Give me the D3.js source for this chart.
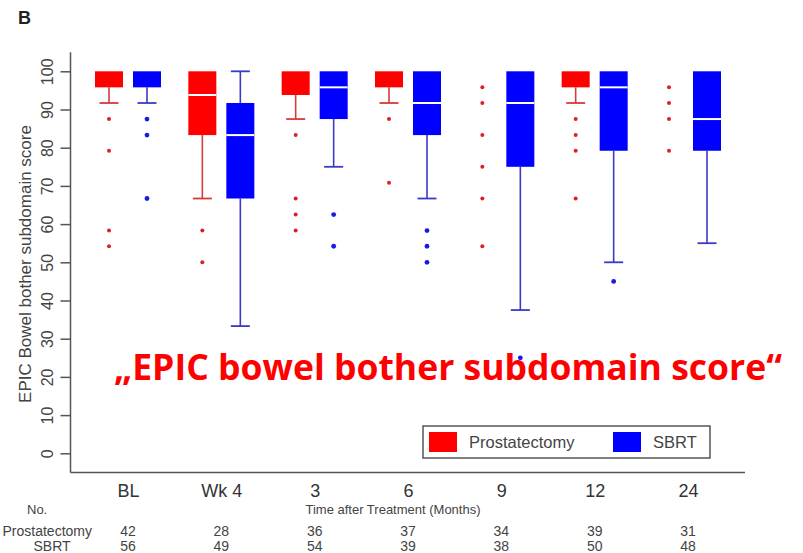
<!DOCTYPE html>
<html>
<head>
<meta charset="utf-8">
<script src="https://cdn.jsdelivr.net/npm/d3@7"></script>
<style>
body { margin: 0; background: #fff; }
svg { display: block; font-family: "Liberation Sans", Arial, sans-serif; }
</style>
</head>
<body>
<div id="chart"></div>
<script>
// time points and the two arms
var categories = ["BL", "Wk 4", "3", "6", "9", "12", "24"];
var groups = ["Prostatectomy", "SBRT"];

// Prostatectomy box stats (score 0-100)
var prostWhiskLo = [91.7, 66.7, 87.5, 91.7, 100, 91.7, 100];
var prostQ1      = [95.8, 83.3, 93.8, 95.8, 100, 95.8, 100];
var prostMedian  = [100, 93.8, 100, 100, 100, 100, 100];
var prostQ3      = [100, 100, 100, 100, 100, 100, 100];
var prostWhiskHi = [100, 100, 100, 100, 100, 100, 100];
var prostOutliers = [
  [87.5, 79.2, 58.3, 54.2],
  [58.3, 50],
  [83.3, 66.7, 62.5, 58.3],
  [87.5, 70.8],
  [95.8, 91.7, 83.3, 75, 66.7, 54.2],
  [87.5, 83.3, 79.2, 66.7],
  [95.8, 91.7, 87.5, 79.2]
];

// SBRT box stats
var sbrtWhiskLo = [91.7, 33.3, 75, 66.7, 37.5, 50, 55];
var sbrtQ1      = [95.8, 66.7, 87.5, 83.3, 75, 79.2, 79.2];
var sbrtMedian  = [100, 83.3, 95.8, 91.7, 91.7, 95.8, 87.5];
var sbrtQ3      = [100, 91.7, 100, 100, 100, 100, 100];
var sbrtWhiskHi = [100, 100, 100, 100, 100, 100, 100];
var sbrtOutliers = [
  [87.5, 83.3, 66.7],
  [],
  [62.5, 54.2],
  [58.3, 54.2, 50],
  [25],
  [45],
  []
];

// numbers at risk
var noProst = [42, 28, 36, 37, 34, 39, 31];
var noSbrt  = [56, 49, 54, 39, 38, 50, 48];

var yTicks = [0, 10, 20, 30, 40, 50, 60, 70, 80, 90, 100];

var width = 803, height = 553;
var colors = {Prostatectomy: "#ff0000", SBRT: "#0000ff"};
var whiskColors = {Prostatectomy: "#d83a3a", SBRT: "#3a3ac8"};

var x = d3.scalePoint().domain(categories).range([128, 688]);
var xg = d3.scaleBand().domain(groups).range([-33, 33]).paddingInner(0.263);
var y = d3.scaleLinear().domain([0, 100]).range([453.3, 71.3]);

var svg = d3.select("#chart").append("svg")
  .attr("width", width)
  .attr("height", height);

// build per-box rows from the arrays
var boxes = [];
categories.forEach(function(c, i) {
  boxes.push({cat: c, group: "Prostatectomy", lo: prostWhiskLo[i], q1: prostQ1[i], med: prostMedian[i],
    q3: prostQ3[i], hi: prostWhiskHi[i], out: prostOutliers[i]});
  boxes.push({cat: c, group: "SBRT", lo: sbrtWhiskLo[i], q1: sbrtQ1[i], med: sbrtMedian[i],
    q3: sbrtQ3[i], hi: sbrtWhiskHi[i], out: sbrtOutliers[i]});
});

function cx(d) { return x(d.cat) + xg(d.group) + xg.bandwidth() / 2; }

// panel letter
svg.append("text")
  .attr("x", 18).attr("y", 24)
  .attr("font-size", 18).attr("font-weight", "bold").attr("fill", "#222")
  .text("B");

// axes lines (L shape)
svg.append("line")
  .attr("x1", 70.5).attr("x2", 70.5)
  .attr("y1", y(105)).attr("y2", y(-5))
  .attr("stroke", "#555").attr("stroke-width", 1.5);
svg.append("line")
  .attr("x1", 70.5).attr("x2", 745)
  .attr("y1", y(-5)).attr("y2", y(-5))
  .attr("stroke", "#555").attr("stroke-width", 1.5);

// y axis ticks
var yAxis = svg.append("g")
  .attr("transform", "translate(70.5,0)")
  .call(d3.axisLeft(y).tickValues(yTicks).tickSize(10).tickSizeOuter(0));
yAxis.select(".domain").remove();
yAxis.selectAll(".tick line").attr("stroke", "#555").attr("stroke-width", 1.5);
yAxis.selectAll(".tick text")
  .attr("x", 0).attr("dy", "0.35em")
  .attr("transform", "translate(-23,0) rotate(-90)")
  .attr("text-anchor", "middle")
  .attr("font-size", 16).attr("fill", "#444")
  .attr("font-family", "Liberation Sans, Arial, sans-serif");

// y title
svg.append("text")
  .attr("transform", "translate(31,264) rotate(-90)")
  .attr("text-anchor", "middle")
  .attr("font-size", 17).attr("fill", "#444")
  .text("EPIC Bowel bother subdomain score");

// x tick labels
var xAxis = svg.append("g")
  .attr("transform", "translate(0," + y(-5) + ")")
  .call(d3.axisBottom(x).tickSize(0));
xAxis.select(".domain").remove();
xAxis.selectAll(".tick text")
  .attr("y", 12).attr("dy", "0.71em")
  .attr("font-size", 18).attr("fill", "#333")
  .attr("font-family", "Liberation Sans, Arial, sans-serif");

// whiskers
var g = svg.append("g");
g.selectAll(".whisk-lo")
  .data(boxes.filter(function(d) { return d.lo < d.q1; }))
  .enter().append("line")
  .attr("x1", cx).attr("x2", cx)
  .attr("y1", function(d) { return y(d.q1); })
  .attr("y2", function(d) { return y(d.lo); })
  .attr("stroke", function(d) { return whiskColors[d.group]; })
  .attr("stroke-width", 1.6);
g.selectAll(".cap-lo")
  .data(boxes.filter(function(d) { return d.lo < d.q1; }))
  .enter().append("line")
  .attr("x1", function(d) { return cx(d) - 9.5; })
  .attr("x2", function(d) { return cx(d) + 9.5; })
  .attr("y1", function(d) { return y(d.lo); })
  .attr("y2", function(d) { return y(d.lo); })
  .attr("stroke", function(d) { return whiskColors[d.group]; })
  .attr("stroke-width", 1.8);
g.selectAll(".whisk-hi")
  .data(boxes.filter(function(d) { return d.hi > d.q3; }))
  .enter().append("line")
  .attr("x1", cx).attr("x2", cx)
  .attr("y1", function(d) { return y(d.q3); })
  .attr("y2", function(d) { return y(d.hi); })
  .attr("stroke", function(d) { return whiskColors[d.group]; })
  .attr("stroke-width", 1.6);
g.selectAll(".cap-hi")
  .data(boxes.filter(function(d) { return d.hi > d.q3; }))
  .enter().append("line")
  .attr("x1", function(d) { return cx(d) - 9.5; })
  .attr("x2", function(d) { return cx(d) + 9.5; })
  .attr("y1", function(d) { return y(d.hi); })
  .attr("y2", function(d) { return y(d.hi); })
  .attr("stroke", function(d) { return whiskColors[d.group]; })
  .attr("stroke-width", 1.8);

// boxes
g.selectAll(".box")
  .data(boxes.filter(function(d) { return d.q3 > d.q1; }))
  .enter().append("rect")
  .attr("class", "box")
  .attr("x", function(d) { return x(d.cat) + xg(d.group); })
  .attr("width", xg.bandwidth())
  .attr("y", function(d) { return y(d.q3); })
  .attr("height", function(d) { return y(d.q1) - y(d.q3); })
  .attr("fill", function(d) { return colors[d.group]; });

// medians (white lines)
g.selectAll(".med")
  .data(boxes.filter(function(d) { return d.med < d.q3 && d.med > d.q1; }))
  .enter().append("line")
  .attr("x1", function(d) { return x(d.cat) + xg(d.group); })
  .attr("x2", function(d) { return x(d.cat) + xg(d.group) + xg.bandwidth(); })
  .attr("y1", function(d) { return y(d.med); })
  .attr("y2", function(d) { return y(d.med); })
  .attr("stroke", "#fff").attr("stroke-width", 2);

// outliers
var pts = [];
boxes.forEach(function(d) {
  d.out.forEach(function(v) { pts.push({cat: d.cat, group: d.group, v: v}); });
});
g.selectAll(".pt")
  .data(pts)
  .enter().append("circle")
  .attr("cx", cx)
  .attr("cy", function(d) { return y(d.v); })
  .attr("r", function(d) { return d.group == "SBRT" ? 2.4 : 2; })
  .attr("fill", function(d) { return d.group == "SBRT" ? "#1a1ae0" : "#e02020"; });

// legend
var leg = svg.append("g");
leg.append("rect")
  .attr("x", 423).attr("y", 426).attr("width", 287).attr("height", 32)
  .attr("fill", "#fff").attr("stroke", "#555").attr("stroke-width", 1.5);
leg.append("rect").attr("x", 429).attr("y", 432).attr("width", 28).attr("height", 20).attr("fill", colors.Prostatectomy);
leg.append("text").attr("x", 469).attr("y", 448).attr("font-size", 16.5).attr("fill", "#444").text("Prostatectomy");
leg.append("rect").attr("x", 613).attr("y", 432).attr("width", 28).attr("height", 20).attr("fill", colors.SBRT);
leg.append("text").attr("x", 653).attr("y", 448).attr("font-size", 16.5).attr("fill", "#444").text("SBRT");

// numbers-at-risk table
svg.append("text").attr("x", 27).attr("y", 514).attr("font-size", 13).attr("fill", "#444").text("No.");
svg.append("text").attr("x", 393).attr("y", 514).attr("text-anchor", "middle")
  .attr("font-size", 13).attr("fill", "#444").text("Time after Treatment (Months)");
svg.append("text").attr("x", 92).attr("y", 536).attr("text-anchor", "end")
  .attr("font-size", 14).attr("fill", "#444").text("Prostatectomy");
svg.append("text").attr("x", 52).attr("y", 551).attr("text-anchor", "middle")
  .attr("font-size", 14).attr("fill", "#444").text("SBRT");

svg.selectAll(".nprost")
  .data(noProst)
  .enter().append("text")
  .attr("x", function(d, i) { return x(categories[i]); })
  .attr("y", 536)
  .attr("text-anchor", "middle").attr("font-size", 14).attr("fill", "#444")
  .text(function(d) { return d; });
svg.selectAll(".nsbrt")
  .data(noSbrt)
  .enter().append("text")
  .attr("x", function(d, i) { return x(categories[i]); })
  .attr("y", 551)
  .attr("text-anchor", "middle").attr("font-size", 14).attr("fill", "#444")
  .text(function(d) { return d; });

// big red annotation over the plot
svg.append("text")
  .attr("x", 114).attr("y", 380)
  .attr("font-family", "'Open Sans', sans-serif")
  .attr("font-weight", "bold").attr("font-size", 36)
  .attr("fill", "#ff0000")
  .attr("textLength", 668).attr("lengthAdjust", "spacingAndGlyphs")
  .text("\u201EEPIC bowel bother subdomain score\u201C");
</script>
</body>
</html>
